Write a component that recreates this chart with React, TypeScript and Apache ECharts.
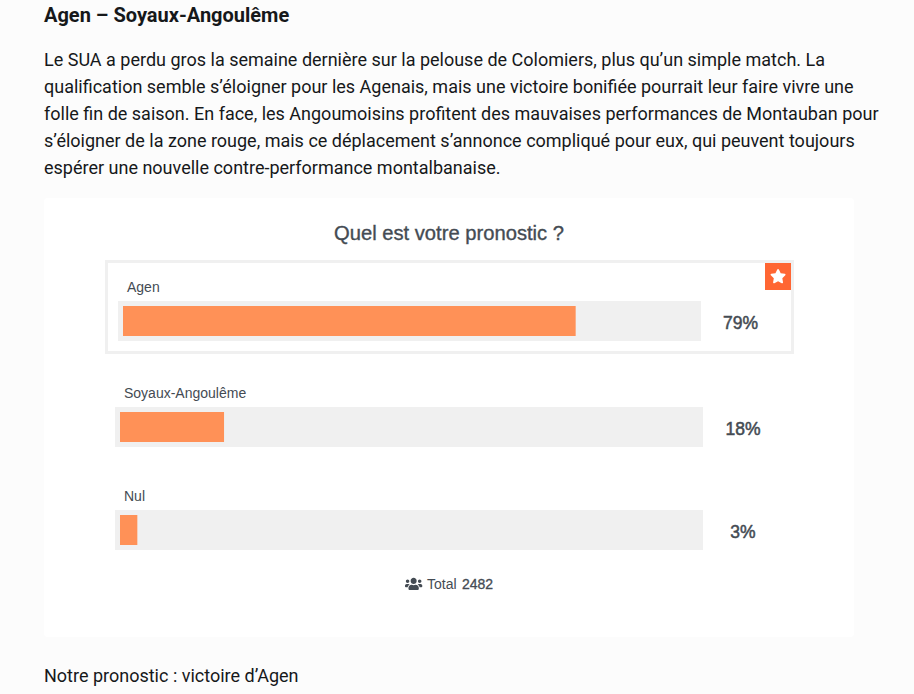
import React, { useEffect, useRef } from "react";
import * as echarts from "echarts";

const heading = "Agen – Soyaux-Angoulême";
const paragraph = [
  "Le SUA a perdu gros la semaine dernière sur la pelouse de Colomiers, plus qu’un simple match. La",
  "qualification semble s’éloigner pour les Agenais, mais une victoire bonifiée pourrait leur faire vivre une",
  "folle fin de saison. En face, les Angoumoisins profitent des mauvaises performances de Montauban pour",
  "s’éloigner de la zone rouge, mais ce déplacement s’annonce compliqué pour eux, qui peuvent toujours",
  "espérer une nouvelle contre-performance montalbanaise.",
];
const pollTitle = "Quel est votre pronostic ?";
const categories = ["Agen", "Soyaux-Angoulême", "Nul"];
const percentages = [79, 18, 3];
const totalLabel = "Total";
const totalVotes = "2482";
const footer = "Notre pronostic : victoire d’Agen";

const rowLayout = [
  { left: 123, width: 573, top: 301, labelX: 127, labelY: 287, pctX: 740.5 },
  { left: 120, width: 578, top: 407, labelX: 124, labelY: 393, pctX: 743 },
  { left: 120, width: 578, top: 510, labelX: 124, labelY: 496, pctX: 743 },
];

const USERS =
  "M96 224c35.3 0 64-28.7 64-64s-28.7-64-64-64-64 28.7-64 64 28.7 64 64 64zm448 0c35.3 0 64-28.7 64-64s-28.7-64-64-64-64 28.7-64 64 28.7 64 64 64zm32 32h-64c-17.6 0-33.5 7.1-45.1 18.6 40.3 22.1 68.9 62 75.1 109.4h66c17.7 0 32-14.3 32-32v-32c0-35.3-28.7-64-64-64zm-256 0c61.9 0 112-50.1 112-112S381.9 32 320 32 208 82.1 208 144s50.1 112 112 112zm76.8 32h-8.3c-20.8 10-43.9 16-68.5 16s-47.6-6-68.5-16h-8.3C179.6 288 128 339.6 128 403.2V432c0 26.5 21.5 48 48 48h288c26.5 0 48-21.5 48-48v-28.8c0-63.6-51.6-115.2-115.2-115.2zm-223.7-13.4C161.5 263.1 145.6 256 128 256H64c-35.3 0-64 28.7-64 64v32c0 17.7 14.3 32 32 32h65.9c6.3-47.4 34.9-87.3 75.2-109.4z";
const STAR =
  "M259.3 17.8L194 150.2 47.9 171.5c-26.2 3.8-36.7 36.1-17.7 54.6l105.7 103-25 145.5c-4.5 26.3 23.2 46 46.4 33.7L288 439.6l130.7 68.7c23.2 12.2 50.9-7.4 46.4-33.7l-25-145.5 105.7-103c19-18.5 8.5-50.8-17.7-54.6L382 150.2 316.7 17.8c-11.7-23.6-45.6-23.9-57.4 0z";

echarts.graphic.registerShape("usersIcon", echarts.graphic.extendPath(USERS as any, {}) as any);
echarts.graphic.registerShape("starIcon", echarts.graphic.extendPath(STAR as any, {}) as any);

const INK = "#16181a";
const POLL = "#444b53";
const TRACK = "#f0f0f0";
const FILL = "#ff9157";
const BODY = "Roboto, sans-serif";
const POLLFONT = "'Liberation Sans', Arial, sans-serif";

function txt(
  x: number,
  y: number,
  text: string,
  fontSize: number,
  fill: string,
  fontFamily: string,
  fontWeight: any = 400,
  align = "left",
  strokeW = 0
) {
  return {
    type: "text",
    x,
    y,
    z: 10,
    style: {
      text,
      fontSize,
      fill,
      fontFamily,
      fontWeight,
      align,
      verticalAlign: "middle",
      ...(strokeW ? { stroke: fill, lineWidth: strokeW } : {}),
    },
  };
}

export default function App() {
  const ref = useRef<HTMLDivElement>(null);
  useEffect(() => {
    const chart = echarts.init(ref.current!, undefined, { renderer: "svg" });
    const graphics: any[] = [
      { type: "rect", z: 0, shape: { x: 44, y: 198, width: 810, height: 439, r: 4 }, style: { fill: "#ffffff" } },
      txt(44, 15, heading, 20, INK, BODY, 700),
      ...paragraph.map((l, i) => txt(44, 59.5 + i * 27, l, 18, INK, BODY)),
      txt(449, 233, pollTitle, 20.2, POLL, POLLFONT, 400, "center", 0.35),
      {
        type: "rect",
        z: 1,
        shape: { x: 106.5, y: 261.5, width: 686, height: 91 },
        style: { fill: "#ffffff", stroke: TRACK, lineWidth: 3 },
      },
      { type: "rect", z: 2, shape: { x: 765, y: 263, width: 26, height: 27 }, style: { fill: "#ff6633" } },
      { type: "starIcon", z: 3, x: 770, y: 269, scaleX: 16 / 576, scaleY: 16 / 576, style: { fill: "#ffffff" } },
      ...rowLayout.map((r) => ({
        type: "rect",
        z: 2,
        shape: { x: r.left - 5, y: r.top, width: r.width + 10, height: 40 },
        style: { fill: TRACK },
      })),
      ...categories.map((c, i) => txt(rowLayout[i].labelX, rowLayout[i].labelY, c, 14, POLL, POLLFONT)),
      ...percentages.map((p, i) =>
        txt(rowLayout[i].pctX, rowLayout[i].top + 21.5, `${p}%`, 17.5, POLL, POLLFONT, 400, "center", 0.5)
      ),
      { type: "usersIcon", z: 3, x: 405, y: 577, scaleX: 17 / 640, scaleY: 17 / 640, style: { fill: POLL } },
      txt(427, 584, totalLabel, 14, POLL, POLLFONT),
      txt(462, 584, totalVotes, 14, POLL, POLLFONT, 400, "left", 0.3),
      txt(44, 675.5, footer, 18, INK, BODY),
    ];
    chart.setOption({
      animation: false,
      backgroundColor: "#fcfcfc",
      grid: rowLayout.map((r) => ({ left: r.left, top: r.top, width: r.width, height: 40 })),
      xAxis: rowLayout.map((_, i) => ({ type: "value", gridIndex: i, min: 0, max: 100, show: false })),
      yAxis: rowLayout.map((_, i) => ({ type: "category", gridIndex: i, data: [categories[i]], show: false })),
      series: rowLayout.map((_, i) => ({
        type: "bar",
        xAxisIndex: i,
        yAxisIndex: i,
        barWidth: 30,
        z: 5,
        data: [percentages[i]],
        itemStyle: { color: FILL },
      })),
      graphic: { elements: graphics },
    });
    return () => chart.dispose();
  }, []);
  return <div ref={ref} style={{ position: "absolute", left: 0, top: 0, width: 914, height: 694 }} />;
}
